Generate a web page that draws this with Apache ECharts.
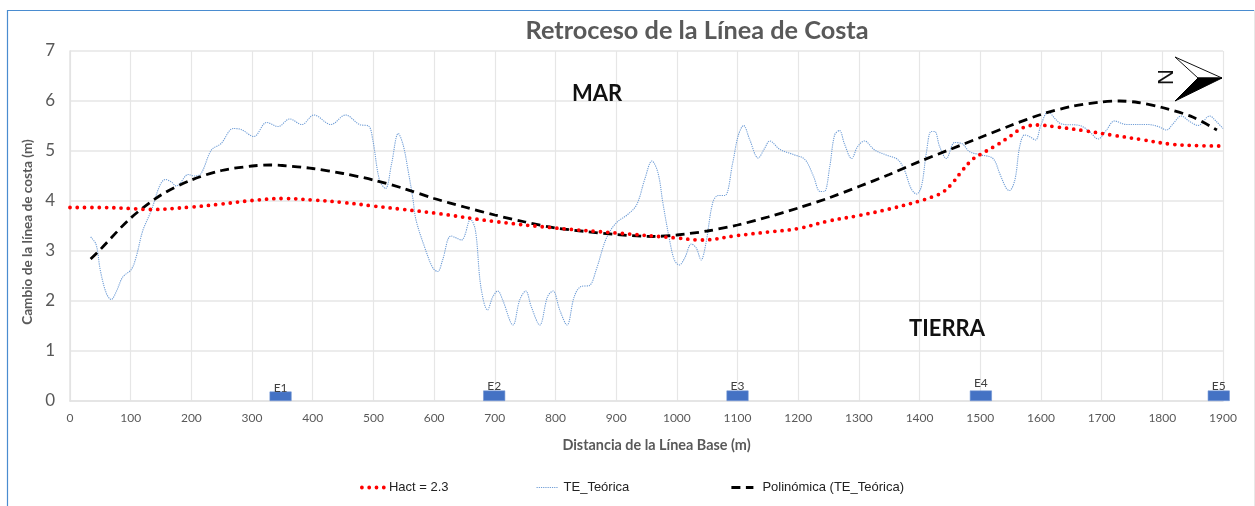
<!DOCTYPE html>
<html><head><meta charset="utf-8">
<style>html,body{margin:0;padding:0;background:#fff}#c{width:1255px;height:506px}</style>
<script src="https://cdn.jsdelivr.net/npm/echarts@6/dist/echarts.min.js"></script>
</head><body><div id="c"></div>
<script>
const xTicks = {min:0,max:1900,step:100};
const yTicks = {min:0,max:7,step:1};
const hact = [[0,3.87],[50,3.87],[100,3.85],[130,3.83],[200,3.88],[250,3.94],[300,4.01],[350,4.05],[400,4.02],[450,3.97],[500,3.9],[550,3.83],[600,3.76],[700,3.59],[800,3.46],[900,3.36],[1000,3.26],[1040,3.22],[1100,3.31],[1150,3.38],[1200,3.45],[1250,3.6],[1300,3.71],[1350,3.84],[1400,4.0],[1427,4.11],[1440,4.19],[1457,4.4],[1471,4.62],[1488,4.84],[1500,4.93],[1530,5.14],[1551,5.31],[1571,5.47],[1595,5.52],[1620,5.49],[1669,5.41],[1716,5.32],[1765,5.23],[1812,5.14],[1851,5.11],[1900,5.1]];
const teorica = [[34,3.28],[43,3.13],[50,2.61],[60,2.15],[68,2.03],[76,2.18],[87,2.48],[101,2.63],[109,2.88],[120,3.41],[134,3.81],[148,4.31],[157,4.43],[167,4.38],[175,4.3],[181,4.35],[195,4.53],[205,4.5],[216,4.55],[233,5.02],[249,5.15],[269,5.45],[282,5.43],[303,5.29],[324,5.57],[343,5.49],[362,5.64],[382,5.53],[402,5.72],[430,5.53],[454,5.72],[477,5.53],[492,5.5],[499,5.22],[510,4.42],[520,4.25],[530,4.75],[541,5.35],[549,5.12],[557,4.62],[565,4.05],[570,3.63],[584,3.09],[598,2.66],[606,2.59],[614,2.82],[628,3.3],[645,3.22],[660,3.63],[668,3.42],[677,2.29],[688,1.82],[697,2.09],[705,2.2],[713,2.02],[730,1.52],[741,2.02],[751,2.2],[760,1.89],[774,1.52],[787,2.09],[796,2.2],[807,1.82],[819,1.52],[831,2.09],[842,2.29],[856,2.31],[867,2.62],[884,3.26],[900,3.56],[919,3.73],[934,3.93],[947,4.43],[959,4.8],[969,4.56],[977,3.96],[988,3.22],[996,2.82],[1004,2.72],[1013,2.86],[1024,3.14],[1032,3.06],[1040,2.82],[1048,3.16],[1059,3.96],[1068,4.11],[1079,4.11],[1092,4.76],[1101,5.3],[1110,5.51],[1120,5.23],[1134,4.86],[1145,5.06],[1153,5.2],[1170,5.03],[1192,4.93],[1211,4.83],[1225,4.5],[1236,4.19],[1243,4.19],[1252,4.69],[1260,5.32],[1268,5.41],[1276,5.15],[1288,4.85],[1298,5.09],[1309,5.2],[1326,5.02],[1345,4.92],[1364,4.83],[1375,4.62],[1386,4.25],[1395,4.14],[1403,4.29],[1411,4.95],[1419,5.39],[1425,5.39],[1433,5.09],[1444,4.85],[1458,5.17],[1471,5.14],[1482,4.99],[1502,4.92],[1521,4.85],[1532,4.55],[1543,4.25],[1548,4.21],[1557,4.42],[1565,5.09],[1573,5.32],[1581,5.29],[1591,5.22],[1600,5.52],[1612,5.79],[1623,5.65],[1634,5.54],[1664,5.51],[1680,5.39],[1694,5.24],[1708,5.42],[1721,5.6],[1741,5.53],[1776,5.53],[1793,5.49],[1807,5.42],[1818,5.55],[1831,5.7],[1845,5.59],[1859,5.51],[1878,5.7],[1889,5.59],[1900,5.45]];
const polinomica = [[34,2.84],[50,3.03],[100,3.66],[150,4.12],[200,4.42],[250,4.61],[300,4.7],[330,4.72],[350,4.71],[400,4.65],[450,4.55],[500,4.42],[550,4.25],[600,4.05],[650,3.88],[700,3.72],[750,3.58],[800,3.46],[850,3.39],[900,3.33],[960,3.29],[1000,3.32],[1050,3.4],[1100,3.52],[1150,3.68],[1200,3.86],[1250,4.06],[1300,4.29],[1350,4.53],[1400,4.79],[1450,5.03],[1500,5.27],[1550,5.51],[1600,5.73],[1650,5.89],[1700,5.98],[1730,6.0],[1760,5.97],[1800,5.87],[1850,5.68],[1890,5.42]];
const stations = ["E1","E2","E3","E4","E5"];
const stationX = [347,699,1100,1501,1893];
const stationH = [0.19,0.21,0.21,0.21,0.21];
const names = ["Hact = 2.3","TE_Teórica","Polinómica (TE_Teórica)"];
const GRAY='#595959', F='Lato, "Noto Sans", sans-serif', LF='"Liberation Sans", Arial, sans-serif';
const chart = echarts.init(document.getElementById('c'), null, {renderer:'canvas'});
const legend = (name,left,pad,lw)=>({show:true,data:[name],left,top:481,itemWidth:22,itemHeight:6,itemGap:0,padding:0,itemStyle:{opacity:0},lineStyle:{width:lw},textStyle:{fontFamily:LF,fontSize:13,color:'#222',padding:[0,0,0,pad]}});
chart.setOption({
  animation:false,
  backgroundColor:'#fff',
  title:{text:'Retroceso de la Línea de Costa',left:692,top:13,textAlign:'center',textStyle:{fontFamily:F,fontWeight:'bold',fontSize:25.3,color:GRAY}},
  legend:[legend(names[0],360,0,3.8),legend(names[1],536,0,1.1),legend(names[2],730,4,2.8)],
  grid:{left:70,right:32,top:51,bottom:105,containLabel:false},
  xAxis:{type:'value',min:xTicks.min,max:xTicks.max,interval:xTicks.step,
    axisLine:{show:true,lineStyle:{color:'#e2e2e2',width:1.5}},axisTick:{show:false},
    axisLabel:{fontFamily:F,fontSize:12,color:GRAY,margin:11,hideOverlap:false,formatter:v=>String(v)},
    splitLine:{show:true,lineStyle:{color:'#e6e6e6',width:1.2}},
    name:'Distancia de la Línea Base (m)',nameLocation:'middle',nameGap:37,
    nameTextStyle:{fontFamily:F,fontWeight:'bold',fontSize:14.4,color:GRAY,padding:[0,0,0,20]}},
  yAxis:{type:'value',min:yTicks.min,max:yTicks.max,interval:yTicks.step,
    axisLine:{show:true,lineStyle:{color:'#e2e2e2',width:1.5}},axisTick:{show:false},
    axisLabel:{fontFamily:F,fontSize:17,color:GRAY,margin:15},
    splitLine:{show:true,lineStyle:{color:'#e6e6e6',width:1.6}},
    name:'Cambio de la línea de costa (m)',nameLocation:'middle',nameGap:31,
    nameTextStyle:{fontFamily:F,fontWeight:'bold',fontSize:13.6,color:GRAY,padding:[0,12,0,0]}},
  series:[
    {name:names[1],type:'line',data:teorica,smooth:0.35,symbol:'none',z:2,
      lineStyle:{color:'#6f9dd6',width:1.1,type:[1.2,1]},itemStyle:{color:'#6f9dd6'}},
    {name:names[2],type:'line',data:polinomica,smooth:0.3,symbol:'none',z:3,
      lineStyle:{color:'#000',width:2.8,type:[9,5.5]},itemStyle:{color:'#000'}},
    {name:names[0],type:'line',data:hact,smooth:0.4,symbol:'none',z:4,
      lineStyle:{color:'#ff0000',width:3.8,type:[0,7.3],cap:'round'},itemStyle:{color:'#ff0000'}},
    {name:'Estaciones',type:'bar',barWidth:22,clip:false,z:5,
      data:stations.map((s,i)=>({name:s,value:[stationX[i],stationH[i]],
        label:{distance:s==='E1'?-3:(s==='E4'?1:-2)}})),
      itemStyle:{color:'#4472c4',borderColor:'#6f93d3',borderWidth:0.6},
      label:{show:true,position:'top',formatter:p=>p.name,fontFamily:F,fontSize:12,color:'#404040'}}
  ],
  graphic:[
    {type:'line',silent:true,shape:{x1:7,y1:10.5,x2:1255,y2:10.5},style:{stroke:'#4a8cd0',lineWidth:1.2}},
    {type:'line',silent:true,shape:{x1:7.5,y1:10,x2:7.5,y2:506},style:{stroke:'#4a8cd0',lineWidth:1.2}},
    {type:'line',silent:true,shape:{x1:1254.5,y1:10,x2:1254.5,y2:506},style:{stroke:'#e8e8e8',lineWidth:1}},
    {type:'text',silent:true,z:10,x:597,y:94,style:{text:'MAR',fontFamily:F,fontWeight:'bold',fontSize:22,fill:'#111',align:'center',verticalAlign:'middle'}},
    {type:'text',silent:true,z:10,x:947,y:329,style:{text:'TIERRA',fontFamily:F,fontWeight:'bold',fontSize:22,fill:'#111',align:'center',verticalAlign:'middle'}},
    {type:'polygon',silent:true,z:10,shape:{points:[[1175,57],[1222,78],[1198,78]]},style:{fill:'#fff',stroke:'#111',lineWidth:1}},
    {type:'polygon',silent:true,z:10,shape:{points:[[1175,101],[1222,78],[1198,78]]},style:{fill:'#000',stroke:'#000',lineWidth:1}},
    {type:'text',silent:true,z:10,x:1167,y:77,rotation:Math.PI/2,style:{text:'N',fontFamily:LF,fontSize:22,fill:'#111',align:'center',verticalAlign:'middle'}}
  ]
});
</script></body></html>
